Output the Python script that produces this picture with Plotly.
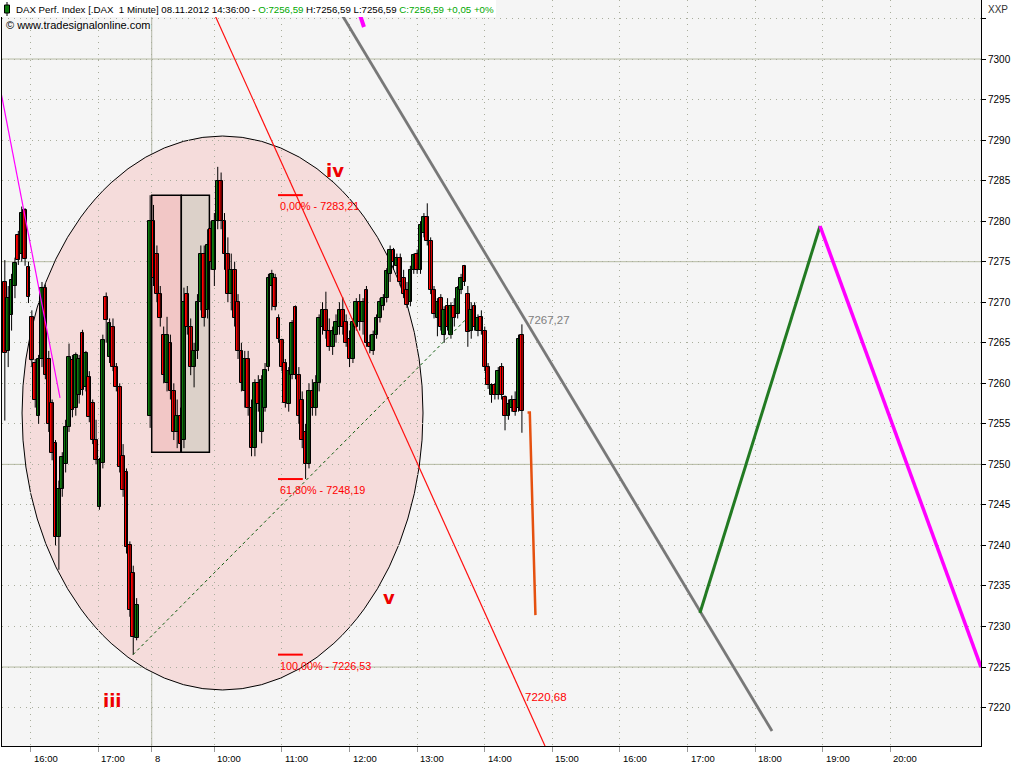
import plotly.graph_objects as go
import pandas as pd

# ---------------- data: 3-minute candles ----------------
# Nov 7 (from 15:37)
d1_open = [7272.5, 7264, 7268.4, 7272, 7278.3, 7276, 7281.4, 7274.4, 7268.2, 7262.5,
           7256, 7263, 7271.8, 7263, 7257.6, 7252.6, 7241, 7247, 7250, 7254.6,
           7262.9, 7257, 7258.5, 7266.2, 7259.5, 7260.8, 7257.6, 7253, 7244.8, 7250.2,
           7270.6, 7263.2, 7267, 7262, 7259.5, 7251, 7249, 7240, 7236.6, 7228.6]
d1_high = [7275.2, 7272, 7273.5, 7275.5, 7278.8, 7281.8, 7281.6, 7275, 7269, 7263,
           7263.5, 7272.5, 7272.2, 7264, 7258, 7253, 7248, 7251.5, 7255.5, 7264.9,
           7263.5, 7263.8, 7263.5, 7266.6, 7264, 7261.5, 7258, 7255.5, 7250.8, 7266,
           7271.2, 7268, 7268, 7262.5, 7260, 7252.5, 7249.5, 7240.5, 7237.5, 7233.5]
d1_low = [7255.4, 7262, 7266.5, 7270.5, 7274.6, 7275, 7274.5, 7269.9, 7262, 7257,
          7255, 7262, 7260.5, 7254, 7250.5, 7240, 7237, 7246, 7249, 7254,
          7255.8, 7256, 7257.5, 7258.5, 7259, 7255.2, 7252.5, 7250, 7244.4, 7249.5,
          7265, 7262.5, 7261.5, 7259, 7249, 7246, 7239, 7231.2, 7226.53, 7228.3]
d1_close = [7263.7, 7270.5, 7272.7, 7274.8, 7275.2, 7281, 7275.3, 7270.6, 7262.9, 7258,
            7263, 7271.8, 7261, 7255, 7251.4, 7241, 7247, 7250.9, 7254.6, 7263.2,
            7256.7, 7263.5, 7263, 7259.2, 7263.7, 7255.8, 7253, 7250.5, 7250.5, 7265.3,
            7267.8, 7267.4, 7262, 7259.5, 7249.7, 7246.8, 7239.8, 7232, 7228.7, 7232.7]

# Nov 8 (from 09:03)
d2_open = [7256, 7280, 7276, 7271, 7266, 7260, 7265, 7259, 7254, 7256,
           7253, 7271, 7267, 7262, 7264, 7270, 7276, 7269, 7279, 7274,
           7280, 7285, 7280, 7276, 7271, 7274, 7270, 7264, 7259, 7263,
           7257, 7252, 7260, 7254, 7257, 7262, 7272, 7273, 7268, 7265.3,
           7262.5, 7257.5, 7261, 7269.4, 7261, 7258, 7254, 7250, 7259, 7257,
           7260, 7267, 7269, 7266.5, 7264.5, 7266, 7267, 7269, 7267.5, 7265.5,
           7263, 7267, 7270, 7267.5, 7271.5, 7265, 7264, 7266, 7268, 7269.5,
           7270.5, 7273.5, 7276.5, 7274.5, 7275.5, 7273, 7271.5, 7270, 7274, 7276,
           7274, 7278.5, 7280.5, 7277.5, 7271.5, 7268, 7270.5, 7266, 7269.5, 7266,
           7269.5, 7268.5, 7271.5, 7274.5, 7271, 7266.5, 7269.5, 7266.5, 7268.2, 7266.5,
           7262, 7258.5, 7259.8, 7258.5, 7262, 7258.3, 7256, 7257, 7258, 7257,
           7266]
d2_high = [7283.2, 7282, 7277, 7272, 7267, 7268.2, 7266, 7260, 7258, 7257,
           7271.8, 7272, 7268, 7265, 7271, 7277, 7277, 7279, 7280, 7281,
           7286.7, 7286, 7281, 7278, 7276, 7275, 7271, 7265, 7264, 7264,
           7258, 7260.5, 7261, 7261, 7262.5, 7273.5, 7274, 7273.5, 7268.5, 7265.5,
           7263, 7262, 7267.8, 7269.6, 7262, 7259, 7255, 7260, 7260.5, 7261,
           7268.5, 7270, 7271.3, 7268, 7267, 7268.5, 7270, 7270.6, 7268.5, 7266.5,
           7268, 7270.5, 7271, 7270.5, 7272, 7266, 7266.5, 7268.5, 7270.5, 7271,
           7274.2, 7277, 7276.7, 7276, 7276, 7274, 7272.5, 7274.5, 7276, 7276.5,
           7280, 7281, 7282.2, 7278, 7272, 7270.5, 7271, 7269.5, 7270.5, 7270,
           7270.5, 7272, 7273.5, 7274.6, 7272, 7270, 7270, 7268.5, 7269, 7267,
           7262.5, 7260, 7260, 7262, 7262.5, 7258.5, 7258, 7258.5, 7259, 7266,
           7267.27]
d2_low = [7254.5, 7272, 7270, 7267, 7260, 7259, 7258, 7253, 7252, 7251.5,
          7252, 7266, 7261, 7259.5, 7263, 7269, 7267, 7268, 7274, 7272,
          7279, 7279, 7274, 7270, 7269, 7267, 7263, 7259, 7257, 7256,
          7251, 7251, 7256.5, 7252.6, 7256.5, 7261.5, 7269, 7269, 7265, 7261.5,
          7257, 7256.5, 7260.5, 7260.5, 7255, 7252, 7248.2, 7249.5, 7256, 7256,
          7259, 7266, 7265.5, 7264, 7263.5, 7265, 7266, 7266, 7264.5, 7262,
          7262.5, 7266.5, 7266.5, 7266, 7264.5, 7263.7, 7263.5, 7265.5, 7267.5, 7269,
          7270, 7272.5, 7274, 7273.5, 7272, 7270.5, 7269.3, 7269.5, 7273.5, 7273.5,
          7273.5, 7278, 7277, 7271, 7268, 7265.8, 7266.5, 7265, 7266.5, 7265.5,
          7267, 7268, 7271, 7272, 7264.5, 7265.5, 7266.5, 7265.8, 7266, 7261.5,
          7259.3, 7257.6, 7258, 7258, 7258, 7254.2, 7255.5, 7256.5, 7256, 7256.5,
          7253.9]
d2_close = [7280, 7273, 7271, 7268, 7261, 7266, 7259, 7254, 7256, 7252.5,
            7270, 7267, 7262, 7264, 7270, 7276, 7268, 7277, 7275, 7280,
            7285, 7280, 7276, 7271, 7274, 7268, 7264, 7260, 7263, 7257,
            7252, 7260, 7257.5, 7260.4, 7261.6, 7273, 7273.5, 7269.4, 7265.5, 7262,
            7257.6, 7261.5, 7267.4, 7261, 7256, 7253, 7250, 7259, 7257, 7260,
            7268, 7269, 7266.5, 7264.5, 7266.5, 7267.5, 7269, 7267, 7265, 7263,
            7267.5, 7270, 7267.5, 7270, 7265, 7264.5, 7266, 7268, 7270, 7270.5,
            7273.8, 7276.5, 7275, 7275.5, 7272.5, 7271, 7269.6, 7274, 7275.8, 7274,
            7279.5, 7280.5, 7277.5, 7271.5, 7268.5, 7270, 7267, 7269, 7267, 7269.5,
            7268, 7271.8, 7273, 7272.5, 7266.3, 7269, 7267, 7268, 7266.5, 7262,
            7259.8, 7259.8, 7258.5, 7261.5, 7258.5, 7256, 7257.5, 7258, 7256.5, 7265.5,
            7256.59]

t1 = pd.date_range("2012-11-07 15:37", periods=len(d1_open), freq="3min")
t2 = pd.date_range("2012-11-08 09:03", periods=len(d2_open), freq="3min")
times = list(t1) + list(t2)
opens = d1_open + d2_open
highs = d1_high + d2_high
lows = d1_low + d2_low
closes = d1_close + d2_close

# ---------------- drawn objects (data coordinates) ----------------
red_trend_t = ["2012-11-08 09:54:24", "2012-11-08 14:53:30"]
red_trend_p = [7307.28, 7215.26]
grey_trend_t = ["2012-11-08 11:45:24", "2012-11-08 18:15:00"]
grey_trend_p = [7307.28, 7217.1]
mag_top_t = ["2012-11-08 12:04:54", "2012-11-08 12:12:48"]
mag_top_p = [7307.28, 7303.95]
mag_left_t = ["2012-11-07 15:33:36", "2012-11-07 16:26:00"]
mag_left_p = [7295.9, 7258.2]
dgreen_t = ["2012-11-07 17:30:48", "2012-11-08 13:43:24"]
dgreen_p = [7226.53, 7267.9]
fc_up_t = ["2012-11-08 17:11:00", "2012-11-08 18:57:36"]
fc_up_p = [7231.66, 7279.4]
fc_dn_t = ["2012-11-08 18:57:36", "2012-11-08 21:20:30"]
fc_dn_p = [7279.4, 7225.0]
orange_t = ["2012-11-08 14:38", "2012-11-08 14:40", "2012-11-08 14:45"]
orange_p = [7256.4, 7256.4, 7231.4]

fib_levels = [7283.21, 7248.19, 7226.53]
fib_texts = ["0,00% - 7283,21", "61,80% - 7248,19", "100,00% - 7226,53"]
fib_t = ["2012-11-08 10:56:30", "2012-11-08 11:18:30"]

ellipse_t = ["2012-11-07 15:52:18", "2012-11-08 13:05:12"]
ellipse_p = [7222.17, 7290.5]
rect_t = ["2012-11-08 09:04:24", "2012-11-08 09:30:40", "2012-11-08 09:55:36"]
rect_p = [7251.5, 7283.21]

wave_labels = ["iii", "iv", "v"]
wave_t = ["2012-11-07 17:13", "2012-11-08 11:47", "2012-11-08 12:35"]
wave_p = [7220.9, 7286.3, 7233.6]

x_tickvals = ["2012-11-07 16:00", "2012-11-07 17:00", "2012-11-08 09:04:24",
              "2012-11-08 10:00", "2012-11-08 11:00", "2012-11-08 12:00",
              "2012-11-08 13:00", "2012-11-08 14:00", "2012-11-08 15:00",
              "2012-11-08 16:00", "2012-11-08 17:00", "2012-11-08 18:00",
              "2012-11-08 19:00", "2012-11-08 20:00"]
x_ticktext = ["16:00", "17:00", "8", "10:00", "11:00", "12:00", "13:00", "14:00",
              "15:00", "16:00", "17:00", "18:00", "19:00", "20:00"]
y_tickvals = [7220, 7225, 7230, 7235, 7240, 7245, 7250, 7255, 7260, 7265, 7270,
              7275, 7280, 7285, 7290, 7295, 7300, 7305]
y_ticktext = [str(v) for v in y_tickvals[:-1]] + [""]
y_solid = [7225, 7250, 7275, 7300]

# ---------------- figure ----------------
W, H = 1024, 768
L, R, T, B = 2, 43, 0, 22
PW, PH = W - L - R, H - T - B
FONT = "Liberation Sans"
UP, DOWN = "#0d7a0d", "#ff0000"
BAR_MS = 200000  # candle body width in milliseconds


def pxx(p):
    return (p - L) / PW


def pxy(q):
    return (H - B - q) / PH


fig = go.Figure()

# wicks
wx, wy = [], []
for t, lo, hi in zip(times, lows, highs):
    wx += [t, t, None]
    wy += [lo, hi, None]
fig.add_trace(go.Scatter(x=wx, y=wy, mode="lines", hoverinfo="skip",
                         line=dict(color="black", width=1), showlegend=False))
# bodies
fig.add_trace(go.Bar(
    x=times,
    base=[min(o, c) for o, c in zip(opens, closes)],
    y=[max(abs(c - o), 0.08) for o, c in zip(opens, closes)],
    width=BAR_MS,
    marker=dict(color=[UP if c >= o else DOWN for o, c in zip(opens, closes)],
                line=dict(color="black", width=1)),
    hoverinfo="skip", showlegend=False))


def line(t, p, color, width, dash="solid"):
    fig.add_trace(go.Scatter(x=t, y=p, mode="lines", hoverinfo="skip",
                             line=dict(color=color, width=width, dash=dash),
                             showlegend=False))


line(dgreen_t, dgreen_p, "#0a5a0a", 1, "dot")
line(red_trend_t, red_trend_p, "#ff1010", 1.2)
line(grey_trend_t, grey_trend_p, "#787878", 2.8)
line(mag_top_t, mag_top_p, "#ff00ff", 4)
line(mag_left_t, mag_left_p, "#ff00ff", 1.2)
line(fc_up_t, fc_up_p, "#227a22", 3)
line(fc_dn_t, fc_dn_p, "#ff00ff", 3.5)
line(orange_t, orange_p, "#e5500f", 2.5)
for lv in fib_levels:
    line(fib_t, [lv, lv], "#ff0000", 2)

shapes = []
shapes.append(dict(type="circle", xref="x", yref="y", layer="below",
                   x0=ellipse_t[0], x1=ellipse_t[1], y0=ellipse_p[0], y1=ellipse_p[1],
                   fillcolor="#f5dcdb", line=dict(color="black", width=1)))
for v in y_solid:
    shapes.append(dict(type="line", xref="paper", yref="y", layer="between",
                       x0=0, x1=1, y0=v, y1=v, line=dict(color="#b5baa2", width=1)))
shapes.append(dict(type="line", xref="x", yref="paper", layer="between",
                   x0=x_tickvals[2], x1=x_tickvals[2], y0=0, y1=1,
                   line=dict(color="#b3b7a6", width=1)))
shapes.append(dict(type="rect", xref="x", yref="y", layer="between",
                   x0=rect_t[0], x1=rect_t[1], y0=rect_p[0], y1=rect_p[1],
                   fillcolor="#f2c7c6", line=dict(color="black", width=1.5)))
shapes.append(dict(type="rect", xref="x", yref="y", layer="between",
                   x0=rect_t[1], x1=rect_t[2], y0=rect_p[0], y1=rect_p[1],
                   fillcolor="#dcd1c9", line=dict(color="black", width=1.5)))
# header background + icon
shapes.append(dict(type="rect", xref="paper", yref="paper", layer="above",
                   x0=pxx(0), x1=pxx(496), y0=pxy(17), y1=pxy(0),
                   fillcolor="white", line=dict(width=0)))
shapes.append(dict(type="line", xref="paper", yref="paper", layer="above",
                   x0=pxx(7), x1=pxx(7), y0=pxy(16), y1=pxy(2),
                   line=dict(color="black", width=1)))
shapes.append(dict(type="rect", xref="paper", yref="paper", layer="above",
                   x0=pxx(4.5), x1=pxx(9.5), y0=pxy(13), y1=pxy(5),
                   fillcolor=UP, line=dict(color="black", width=1)))

ann = []
ann.append(dict(xref="paper", yref="paper", x=pxx(14), y=pxy(9), xanchor="left",
                yanchor="middle", showarrow=False,
                font=dict(family=FONT, size=9.7, color="black"),
                text="DAX Perf. Index [.DAX\u00a0 1 Minute] 08.11.2012 14:36:00 - "
                     "<span style='color:#00a800'>O:7256,59</span> H:7256,59 L:7256,59 "
                     "<span style='color:#00a800'>C:7256,59 +0,05 +0%</span>"))
ann.append(dict(xref="paper", yref="paper", x=pxx(4), y=pxy(25), xanchor="left",
                yanchor="middle", showarrow=False,
                font=dict(family=FONT, size=11, color="black"),
                text="© www.tradesignalonline.com"))
ann.append(dict(xref="paper", yref="paper", x=pxx(986), y=pxy(9), xanchor="left",
                yanchor="middle", showarrow=False,
                font=dict(family=FONT, size=10, color="#333333"), text="XXP"))
for tv, tt in zip(x_tickvals, x_ticktext):
    ann.append(dict(xref="x", yref="paper", x=tv, y=pxy(759), xanchor="left",
                    yanchor="middle", xshift=1, showarrow=False,
                    font=dict(family=FONT, size=9.5, color="black"), text=tt))
for lv, tx in zip(fib_levels, fib_texts):
    ann.append(dict(xref="x", yref="y", x=fib_t[0], y=lv, xanchor="left",
                    yanchor="top", yshift=-3, showarrow=False,
                    font=dict(family=FONT, size=10.8, color="#ff0000"), text=tx))
for lab, tt, pp in zip(wave_labels, wave_t, wave_p):
    ann.append(dict(xref="x", yref="y", x=tt, y=pp, xanchor="center",
                    yanchor="middle", showarrow=False,
                    font=dict(family="DejaVu Sans", size=18, color="#ee0000"),
                    text="<b>%s</b>" % lab))
ann.append(dict(xref="x", yref="y", x="2012-11-08 14:37", y=7267.8, xanchor="left",
                yanchor="middle", showarrow=False,
                font=dict(family=FONT, size=11.5, color="#808080"), text="7267,27"))
ann.append(dict(xref="x", yref="y", x="2012-11-08 14:34", y=7221.3, xanchor="left",
                yanchor="middle", showarrow=False,
                font=dict(family=FONT, size=11.5, color="#ff0000"), text="7220,68"))

fig.update_layout(
    width=W, height=H, margin=dict(l=L, r=R, t=T, b=B),
    paper_bgcolor="white", plot_bgcolor="#f5f5f5", showlegend=False,
    font=dict(family=FONT, size=10.5, color="black"),
    shapes=shapes, annotations=ann, bargap=0,
    xaxis=dict(type="date", range=["2012-11-07 15:34:30", "2012-11-08 21:20:30"],
               rangebreaks=[dict(bounds=["2012-11-07 17:43", "2012-11-08 09:00"])],
               tickvals=x_tickvals, ticktext=x_ticktext, showticklabels=False,
               ticks="outside", ticklen=5, tickcolor="#999999",
               showgrid=True, gridcolor="#a9ad9c", griddash="1px,5px", gridwidth=1,
               showline=True, linecolor="black", linewidth=1, zeroline=False,
               fixedrange=True),
    yaxis=dict(side="right", range=[7215.26, 7307.28],
               tickvals=y_tickvals, ticktext=y_ticktext,
               ticks="outside", ticklen=4, tickcolor="black",
               tickfont=dict(family=FONT, size=10, color="black"),
               showgrid=True, gridcolor="#a9ad9c", griddash="1px,5px", gridwidth=1,
               showline=True, mirror=True, linecolor="black", linewidth=1,
               zeroline=False, fixedrange=True),
)

fig.write_html("out.html",
               config={"displayModeBar": False},
               post_script="document.body.style.margin='0px';"
                           "document.body.style.overflow='hidden';")
